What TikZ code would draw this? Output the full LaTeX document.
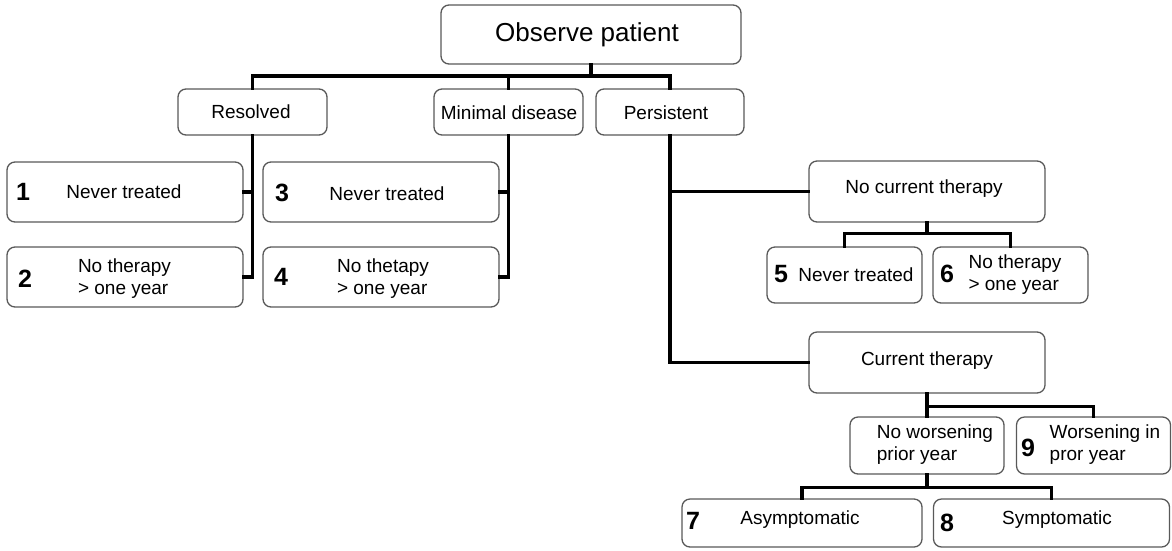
\documentclass[tikz,border=0pt]{standalone}
\usepackage{fontspec}
\setmainfont{Liberation Sans}
\begin{document}
\begin{tikzpicture}[x=1pt,y=-1pt,
  box/.style={draw=black!65, line width=1.3pt, rounded corners=8pt, fill=white, inner sep=0pt},
  conn/.style={draw=black, line width=3.5pt, line cap=rect, line join=miter},
  txt/.style={inner sep=0pt, font=\fontsize{19}{22}\selectfont, align=left, yshift=-2pt},
  num/.style={inner sep=0pt, font=\fontsize{25}{28}\selectfont\bfseries}]
\useasboundingbox (0,0) rectangle (1172,550);
% boxes
\node[box, minimum width=300pt, minimum height=59pt] (obs) at (591,34.5) {};
\node[box, minimum width=149pt, minimum height=46pt] (res) at (252.5,112) {};
\node[box, minimum width=149pt, minimum height=46pt] (mini) at (508.5,112) {};
\node[box, minimum width=148pt, minimum height=46pt] (pers) at (670,112) {};
\node[box, minimum width=236pt, minimum height=60pt] (b1) at (125,192) {};
\node[box, minimum width=236pt, minimum height=60pt] (b2) at (125,277) {};
\node[box, minimum width=236pt, minimum height=60pt] (b3) at (381,192) {};
\node[box, minimum width=236pt, minimum height=60pt] (b4) at (381,277) {};
\node[box, minimum width=236pt, minimum height=61pt] (nct) at (927,191.5) {};
\node[box, minimum width=155pt, minimum height=56pt] (b5) at (844.5,275) {};
\node[box, minimum width=155pt, minimum height=56pt] (b6) at (1010.5,275) {};
\node[box, minimum width=236pt, minimum height=61pt] (ct) at (927,362.5) {};
\node[box, minimum width=154pt, minimum height=57pt] (nw) at (927,445.5) {};
\node[box, minimum width=154pt, minimum height=57pt] (b9) at (1093.5,445.5) {};
\node[box, minimum width=240pt, minimum height=48pt] (b7) at (802,523) {};
\node[box, minimum width=236pt, minimum height=48pt] (b8) at (1051.5,523) {};
% texts
\node[txt, font=\fontsize{26}{30}\selectfont] (tobs) at (587,33) {Observe patient};
\node[txt] (tres) at (251,110) {Resolved};
\node[txt] (tmin) at (509,111) {Minimal disease};
\node[txt] (tpers) at (666,111) {Persistent};
\node[num] (n1) at (23,192) {1};
\node[txt] (t1) at (124,190) {Never treated};
\node[num] (n2) at (25,279) {2};
\node[txt] (t2) at (124.5,277) {No therapy\\> one year};
\node[num] (n3) at (282,193) {3};
\node[txt] (t3) at (387,192) {Never treated};
\node[num] (n4) at (281,277) {4};
\node[txt] (t4) at (383,277) {No thetapy\\> one year};
\node[txt] (tnct) at (924,187) {No current therapy};
\node[num] (n5) at (781,274) {5};
\node[txt] (t5) at (856,273) {Never treated};
\node[num] (n6) at (947,274) {6};
\node[txt] (t6) at (1015,273) {No therapy\\> one year};
\node[txt] (tct) at (927,359) {Current therapy};
\node[txt] (tnw) at (935,443) {No worsening\\prior year};
\node[num] (n9) at (1028,448) {9};
\node[txt] (t9) at (1105,443) {Worsening in\\pror year};
\node[num] (n7) at (693,521) {7};
\node[txt] (t7) at (800,518) {Asymptomatic};
\node[num] (n8) at (947,523) {8};
\node[txt] (t8) at (1057,518) {Symptomatic};
% connectors
\coordinate (bus) at (591,76);
\draw[conn] (obs.south) -- (bus);
\draw[conn] (res.north) |- (bus) -| (pers.north);
\draw[conn] (mini.north) -- (mini.north |- bus);
\draw[conn] (res.south) |- (b2.east);
\draw[conn] (b1.east) -- (b1.east -| res.south);
\draw[conn] (mini.south) |- (b4.east);
\draw[conn] (b3.east) -- (b3.east -| mini.south);
\draw[conn] (pers.south) |- (ct.west);
\draw[conn] (nct.west) -- (nct.west -| pers.south);
\path (nct.south) ++(0,11) coordinate (j1);
\draw[conn] (nct.south) -- (j1);
\draw[conn] (b5.north) |- (j1) -| (b6.north);
\path (ct.south) ++(0,13) coordinate (j2);
\draw[conn] (ct.south) -- (nw.north);
\draw[conn] (j2) -| (b9.north);
\path (nw.south) ++(0,13) coordinate (j3);
\draw[conn] (nw.south) -- (j3);
\draw[conn] (b7.north) |- (j3) -| (b8.north);
\end{tikzpicture}
\end{document}
